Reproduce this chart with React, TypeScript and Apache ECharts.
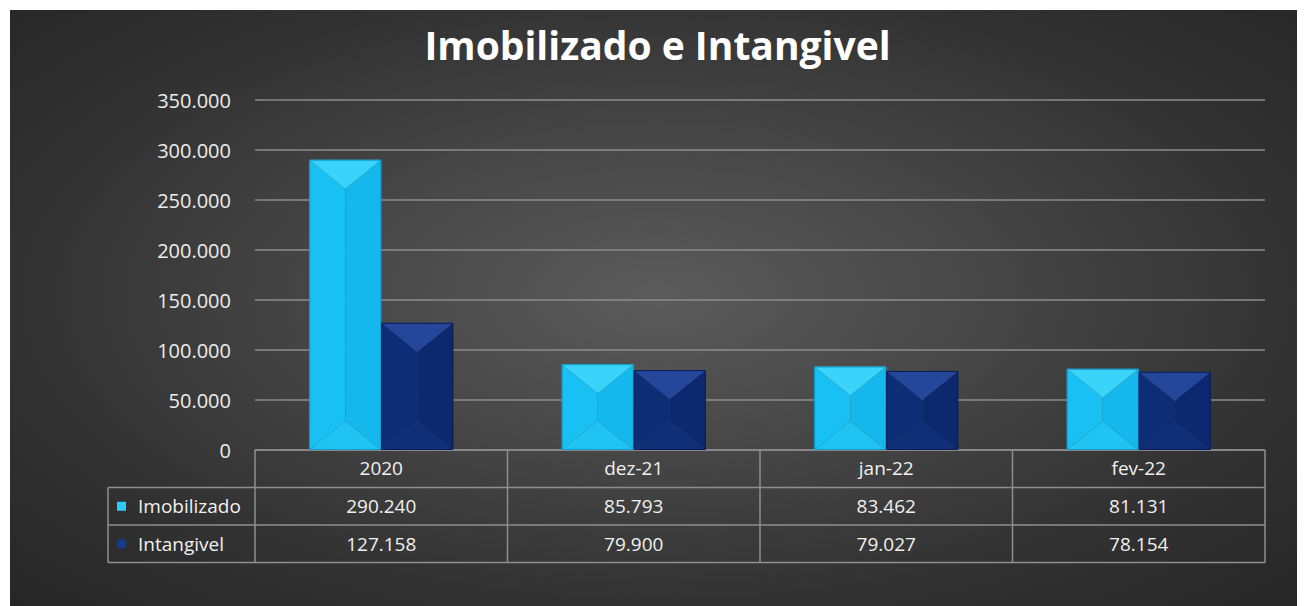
import React, { useEffect, useRef } from "react";
import * as echarts from "echarts";

const categories = ["2020", "dez-21", "jan-22", "fev-22"];
const seriesNames = ["Imobilizado", "Intangivel"];
const imobilizado = [290240, 85793, 83462, 81131];
const intangivel = [127158, 79900, 79027, 78154];
const yMin = 0;
const yMax = 350000;
const yInterval = 50000;
const titleText = "Imobilizado e Intangivel";

const W = 1295;
const H = 596;
const GRID_LEFT = 245;
const GRID_RIGHT = 40;
const GRID_TOP = 90;
const GRID_BOTTOM = 156;
const BAR_W = 72;
const FONT = "'Open Sans', 'Noto Sans', sans-serif";

const palettes = [
  { left: "#19c0f3", right: "#15b8ec", top: "#3ad4fa", bottom: "#20c4f3", key: "#2ccaf6", edge: "#0d9ccf" },
  { left: "#0e2d77", right: "#0c286e", top: "#24479c", bottom: "#102f78", key: "#163a8e", edge: "#081d55" },
];

const fmt = (v: number) => String(v).replace(/\B(?=(\d{3})+(?!\d))/g, ".");

export default function App() {
  const ref = useRef<HTMLDivElement>(null);
  useEffect(() => {
    if (!ref.current) return;
    const chart = echarts.init(ref.current, null, { renderer: "svg" });
    const allSeries = [imobilizado, intangivel];

    const plotW = W - GRID_LEFT - GRID_RIGHT;
    const colX = categories.map((_, k) => GRID_LEFT + (k * plotW) / categories.length);
    colX.push(GRID_LEFT + plotW);
    const y0 = H - GRID_BOTTOM;
    const rowH = 37.5;
    const rowY = [y0, y0 + rowH, y0 + 2 * rowH, y0 + 3 * rowH];
    const tableLeft = 98;
    const lineStyle = { stroke: "#8f8f8f", lineWidth: 1.5 };

    const graphics: any[] = [];
    graphics.push({ type: "line", shape: { x1: GRID_LEFT, y1: rowY[0], x2: colX[4], y2: rowY[0] }, style: lineStyle });
    for (let r = 1; r < 4; r++) {
      graphics.push({ type: "line", shape: { x1: tableLeft, y1: rowY[r], x2: colX[4], y2: rowY[r] }, style: lineStyle });
    }
    graphics.push({ type: "line", shape: { x1: tableLeft, y1: rowY[1], x2: tableLeft, y2: rowY[3] }, style: lineStyle });
    colX.forEach((x) => {
      graphics.push({ type: "line", shape: { x1: x, y1: rowY[0], x2: x, y2: rowY[3] }, style: lineStyle });
    });
    seriesNames.forEach((name, s) => {
      const cy = (rowY[s + 1] + rowY[s + 2]) / 2;
      graphics.push({
        type: "rect",
        shape: { x: tableLeft + 9, y: cy - 4.5, width: 9, height: 9 },
        style: { fill: palettes[s].key },
      });
      graphics.push({
        type: "text",
        x: tableLeft + 30,
        y: cy,
        style: { text: name, fill: "#f0f0f0", font: `19px ${FONT}`, textVerticalAlign: "middle", textAlign: "left" },
      });
      allSeries[s].forEach((v, k) => {
        graphics.push({
          type: "text",
          x: (colX[k] + colX[k + 1]) / 2,
          y: cy,
          style: { text: fmt(v), fill: "#f0f0f0", font: `19px ${FONT}`, textVerticalAlign: "middle", textAlign: "center" },
        });
      });
    });

    const makeSeries = (s: number) => ({
      type: "custom",
      name: seriesNames[s],
      data: allSeries[s].map((v, i) => [i, v]),
      encode: { x: 0, y: 1 },
      renderItem: (params: any, api: any) => {
        const i = api.value(0);
        const v = api.value(1);
        const top = api.coord([i, v]);
        const base = api.coord([i, 0]);
        const x0 = top[0] - BAR_W + s * BAR_W;
        const x1 = x0 + BAR_W;
        const xm = (x0 + x1) / 2;
        const yt = top[1];
        const yb = base[1];
        const d = Math.min(29, (yb - yt) / 2);
        const p = palettes[s];
        return {
          type: "group",
          children: [
            { type: "polygon", shape: { points: [[x0, yt], [xm, yt + d], [xm, yb - d], [x0, yb]] }, style: { fill: p.left } },
            { type: "polygon", shape: { points: [[x1, yt], [xm, yt + d], [xm, yb - d], [x1, yb]] }, style: { fill: p.right } },
            { type: "polygon", shape: { points: [[x0, yt], [x1, yt], [xm, yt + d]] }, style: { fill: p.top } },
            { type: "polygon", shape: { points: [[x0, yb], [x1, yb], [xm, yb - d]] }, style: { fill: p.bottom } },
            { type: "rect", shape: { x: x0 + 0.5, y: yt + 0.5, width: BAR_W - 1, height: yb - yt - 1 }, style: { fill: "none", stroke: p.edge, lineWidth: 1 } },
          ],
        };
      },
    });

    chart.setOption({
      animation: false,
      backgroundColor: "transparent",
      title: {
        text: titleText,
        left: "center",
        top: 10,
        padding: [5, 5, 5, 22],
        textStyle: { color: "#ffffff", fontSize: 39, fontWeight: "bold", fontFamily: FONT },
      },
      grid: { left: GRID_LEFT, right: GRID_RIGHT, top: GRID_TOP, bottom: GRID_BOTTOM, containLabel: false },
      xAxis: {
        type: "category",
        data: categories,
        axisLine: { show: false },
        axisTick: { show: false },
        axisLabel: { color: "#f0f0f0", fontSize: 19, fontFamily: FONT, margin: 18, verticalAlign: "middle" },
      },
      yAxis: {
        type: "value",
        min: yMin,
        max: yMax,
        interval: yInterval,
        axisLine: { show: false },
        axisTick: { show: false },
        splitLine: { lineStyle: { color: "#8c8c8c", width: 1.5 } },
        axisLabel: { color: "#ececec", fontSize: 20, fontFamily: FONT, margin: 24, formatter: (v: number) => fmt(v) },
      },
      series: [makeSeries(0), makeSeries(1)],
      graphic: graphics,
    });
    return () => chart.dispose();
  }, []);

  return (
    <div
      style={{
        width: W,
        height: H,
        marginLeft: 2,
        marginTop: 2,
        background: "radial-gradient(ellipse at 50% 48%, #5b5b5b 0%, #474747 35%, #323232 70%, #262626 100%)",
      }}
    >
      <div ref={ref} style={{ width: W, height: H }} />
    </div>
  );
}
